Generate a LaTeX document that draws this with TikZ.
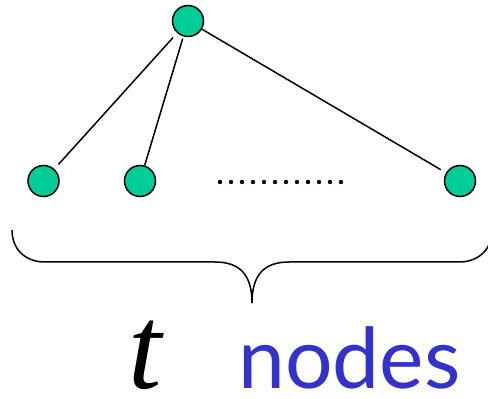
\documentclass[tikz,border=0pt]{standalone}
\usepackage{fontspec}
\setmainfont{Liberation Serif}
\newfontfamily\labelfont{Lato}
\definecolor{nodegreen}{HTML}{00CC99}
\definecolor{labelblue}{HTML}{3333CC}
\begin{document}
\begin{tikzpicture}[x=1pt,y=1pt,
    vertex/.style={circle,draw,fill=nodegreen,line width=1.5pt,minimum size=31pt,inner sep=0pt},
    edge/.style={line width=1.5pt}]
    \useasboundingbox (0,0) rectangle (488,399);
    % tree
    \node[vertex] (root) at (188,378) {};
    \node[vertex] (leafa) at (43.5,218) {};
    \node[vertex] (leafb) at (140,218) {};
    \node[vertex] (leafc) at (460,218) {};
    \draw[edge,shorten <=6pt,shorten >=6pt] (root) -- (leafa);
    \draw[edge,shorten <=2pt] (root) -- (leafb);
    \draw[edge,shorten >=6pt] (root) -- (leafc);
    \foreach \x in {0,1,...,11}
        \fill (220+11*\x,217) circle (2.2pt);
    % brace
    \draw[line width=1.5pt] (12,169) .. controls (12,150) and (25,137) .. (45,137)
        -- (215,137) .. controls (240,137) and (252,124) .. (252,96)
        .. controls (252,124) and (264,137) .. (289,137)
        -- (459,137) .. controls (479,137) and (492,150) .. (492,169);
    % label
    \node[anchor=base west,inner sep=0pt,font=\fontsize{120}{120}\selectfont\itshape] (tvar) at (128,10) {t};
    \node[anchor=base west,inner sep=0pt,text=labelblue,font=\labelfont\fontsize{84}{84}\selectfont] (word) at (238,10) {nodes};
\end{tikzpicture}
\end{document}
